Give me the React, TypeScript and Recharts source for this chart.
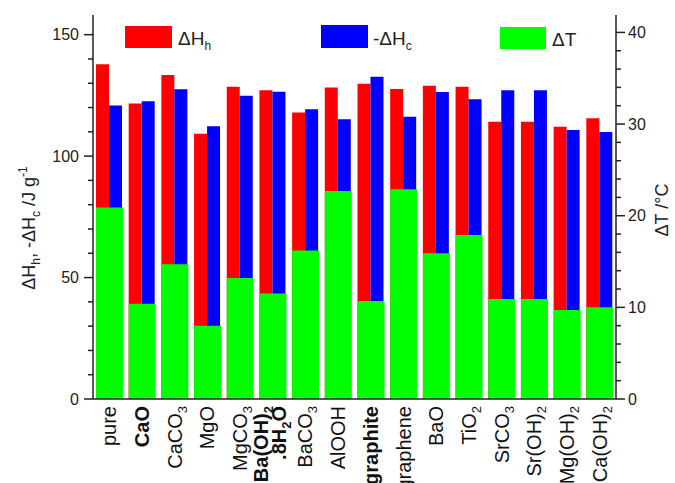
import React from "react";
import { ComposedChart, Bar, XAxis, YAxis } from "recharts";

// additives (x categories)
const categories = [
  "pure", "CaO", "CaCO3", "MgO", "MgCO3", "Ba(OH)2.8H2O", "BaCO3", "AlOOH",
  "graphite", "graphene", "BaO", "TiO2", "SrCO3", "Sr(OH)2", "Mg(OH)2", "Ca(OH)2",
];
// ΔHh, J/g (left axis)
const heating = [137.8, 121.7, 133.4, 109.2, 128.6, 127.1, 118.0, 128.2, 129.8, 127.6, 129.0, 128.6, 114.2, 114.2, 112.1, 115.6];
// -ΔHc, J/g (left axis)
const cooling = [120.8, 122.6, 127.5, 112.3, 124.9, 126.5, 119.3, 115.2, 132.7, 116.2, 126.4, 123.4, 127.1, 127.1, 110.8, 109.9];
// ΔT, °C (right axis)
const deltaT = [20.9, 10.4, 14.7, 8.0, 13.2, 11.5, 16.2, 22.7, 10.7, 22.9, 15.9, 17.9, 10.9, 10.9, 9.7, 10.0];

const boldCategories = ["CaO", "Ba(OH)2.8H2O", "graphite"];
const leftTicks = [0, 10, 20, 30, 40, 50, 60, 70, 80, 90, 100, 110, 120, 130, 140, 150];
const leftLabels = [0, 50, 100, 150];
const rightTicks = [0, 2, 4, 6, 8, 10, 12, 14, 16, 18, 20, 22, 24, 26, 28, 30, 32, 34, 36, 38, 40];
const rightLabels = [0, 10, 20, 30, 40];

const data = categories.map((name, i) => ({
  name,
  hh: heating[i],
  hc: cooling[i],
  dt: deltaT[i],
}));

const FONT = "'Liberation Sans', Arial, sans-serif";
const AXIS = "#222";

type Part = { t: string; sub: boolean };

// digits after a letter or ")" become subscripts; ".8" of the hydrate stays normal
function parseFormula(s: string): Part[] {
  const parts: Part[] = [];
  for (let i = 0; i < s.length; i++) {
    const ch = s[i];
    const isSub = /[0-9]/.test(ch) && i > 0 && /[A-Za-z)]/.test(s[i - 1]);
    const last = parts[parts.length - 1];
    if (last && last.sub === isSub) last.t += ch;
    else parts.push({ t: ch, sub: isSub });
  }
  return parts;
}

function segments(parts: Part[], subSize: number, shift: number) {
  let inSub = false;
  return parts.map((p, i) => {
    let dy = 0;
    if (p.sub && !inSub) dy = shift;
    if (!p.sub && inSub) dy = -shift;
    inSub = p.sub;
    return (
      <tspan key={i} dy={dy} fontSize={p.sub ? subSize : undefined}>
        {p.t}
      </tspan>
    );
  });
}

const XTick = (props: any) => {
  const { x, y, payload } = props;
  const name: string = payload.value;
  const dot = name.indexOf(".");
  const lines = dot > 0 ? [name.slice(0, dot), name.slice(dot)] : [name];
  const offsets = lines.length === 2 ? [-5, 13] : [7];
  const bold = boldCategories.includes(name);
  return (
    <g>
      {lines.map((ln, i) => (
        <text
          key={i}
          x={0}
          y={0}
          transform={`translate(${x + offsets[i]}, ${y + 7}) rotate(-90)`}
          textAnchor="end"
          fontSize={20}
          fontFamily={FONT}
          fontWeight={bold ? "bold" : "normal"}
          fill="#111"
        >
          {segments(parseFormula(ln), 13, 5)}
        </text>
      ))}
    </g>
  );
};

const LeftTick = (props: any) => {
  const { x, y, payload } = props;
  const major = leftLabels.includes(payload.value);
  return (
    <g>
      <line x1={x - (major ? 9 : 5)} x2={x} y1={y} y2={y} stroke={AXIS} strokeWidth={1.5} />
      {major && (
        <text x={x - 14} y={y} dy="0.36em" textAnchor="end" fontSize={16} fontFamily={FONT} fill="#222">
          {payload.value}
        </text>
      )}
    </g>
  );
};

const RightTick = (props: any) => {
  const { x, y, payload } = props;
  const major = rightLabels.includes(payload.value);
  return (
    <g>
      <line x1={x} x2={x + (major ? 9 : 5)} y1={y} y2={y} stroke={AXIS} strokeWidth={1.5} />
      {major && (
        <text x={x + 12} y={y} dy="0.36em" textAnchor="start" fontSize={16} fontFamily={FONT} fill="#222">
          {payload.value}
        </text>
      )}
    </g>
  );
};

function Overlay() {
  return (
    <svg
      width={675}
      height={483}
      style={{ position: "absolute", left: 0, top: 0, pointerEvents: "none" }}
      fontFamily={FONT}
    >
      {/* legend */}
      <rect x={125} y={26} width={47} height={22} fill="#ff0000" />
      <text x={178} y={45} fontSize={19} fill="#222">
        ΔH<tspan dy={5} fontSize={12}>h</tspan>
      </text>
      <rect x={321} y={25} width={47} height={23} fill="#0000ff" />
      <text x={373} y={45} fontSize={19} fill="#222">
        -ΔH<tspan dy={5} fontSize={12}>c</tspan>
      </text>
      <rect x={500} y={27} width={46} height={22} fill="#00ff00" />
      <text x={552} y={46} fontSize={19} fill="#222">
        ΔT
      </text>

      {/* axis titles */}
      <text transform="translate(35, 228) rotate(-90)" textAnchor="middle" fontSize={18} fill="#222">
        ΔH<tspan dy={5} fontSize={12}>h</tspan>
        <tspan dy={-5}>, -ΔH</tspan>
        <tspan dy={5} fontSize={12}>c</tspan>
        <tspan dy={-5}> /J g</tspan>
        <tspan dy={-8} fontSize={12}>-1</tspan>
      </text>
      <text transform="translate(668, 210) rotate(-90)" textAnchor="middle" fontSize={18} fill="#222">
        ΔT /°C
      </text>
    </svg>
  );
}

export default function App() {
  return (
    <div style={{ position: "absolute", left: 0, top: 0, width: 675, height: 483, background: "#fff", fontFamily: FONT }}>
      <ComposedChart
        width={675}
        height={483}
        data={data}
        margin={{ top: 15, right: 0, bottom: 0, left: 0 }}
        barCategoryGap={3}
        barGap={0}
      >
        <XAxis
          xAxisId="main"
          dataKey="name"
          height={84}
          interval={0}
          tickSize={0}
          tickMargin={0}
          tick={<XTick />}
          axisLine={{ stroke: AXIS, strokeWidth: 1.5 }}
        />
        <XAxis
          xAxisId="overlay"
          dataKey="name"
          orientation="top"
          height={0}
          tick={false}
          tickLine={false}
          axisLine={{ stroke: AXIS, strokeWidth: 1.5 }}
        />
        <YAxis
          yAxisId="left"
          width={93}
          domain={[0, 158.1]}
          ticks={leftTicks}
          interval={0}
          tickSize={0}
          tickMargin={0}
          tick={<LeftTick />}
          axisLine={{ stroke: AXIS, strokeWidth: 1.5 }}
        />
        <YAxis
          yAxisId="right"
          orientation="right"
          width={59}
          domain={[0, 41.9]}
          ticks={rightTicks}
          interval={0}
          tickSize={0}
          tickMargin={0}
          tick={<RightTick />}
          axisLine={{ stroke: AXIS, strokeWidth: 1.5 }}
        />
        <Bar xAxisId="main" yAxisId="left" dataKey="hh" name="ΔHh" fill="#ff0000" isAnimationActive={false} />
        <Bar xAxisId="main" yAxisId="left" dataKey="hc" name="-ΔHc" fill="#0000ff" isAnimationActive={false} />
        <Bar xAxisId="overlay" yAxisId="right" dataKey="dt" name="ΔT" fill="#00ff00" isAnimationActive={false} />
      </ComposedChart>
      <Overlay />
    </div>
  );
}
